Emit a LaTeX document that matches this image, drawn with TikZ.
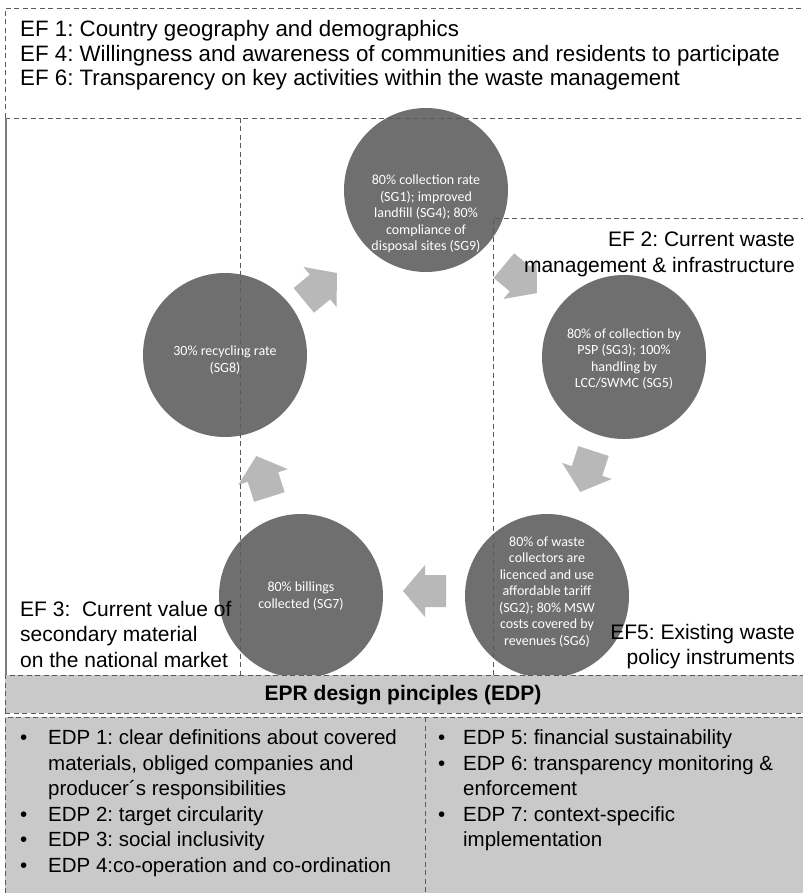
\documentclass[tikz,border=0pt]{standalone}
\usepackage{fontspec}
\setmainfont{Liberation Sans}
\newfontfamily\calfont{Carlito}
\usetikzlibrary{calc}
\definecolor{circgray}{RGB}{111,111,111}
\definecolor{arrgray}{RGB}{184,184,184}
\definecolor{bandgray}{RGB}{201,201,201}
\definecolor{linegray}{RGB}{90,90,90}
\tikzset{
  dl/.style={draw=linegray, line width=0.9pt, dash pattern=on 5pt off 3.5pt},
  goal/.style={circle, fill=circgray, minimum size=164pt, inner sep=0pt},
  gtext/.style={align=center, inner sep=0pt, text=white, font=\calfont\fontsize{14}{16.5}\selectfont},
  eftext/.style={inner sep=0pt, font=\fontsize{21}{25.5}\selectfont},
  toptext/.style={inner sep=0pt, anchor=west, font=\fontsize{22.3}{26}\selectfont},
  cycarrow/.pic={\fill[arrgray] (-21,-16) -- (0,-16) -- (0,-26) -- (22,0) -- (0,26) -- (0,16) -- (-21,16) -- cycle;}
}
\begin{document}
\frenchspacing
\begin{tikzpicture}[x=1pt,y=-1pt]
\useasboundingbox (0,0) rectangle (803,893);
\fill[white] (0,0) rectangle (803,893);
% circles
\node[goal] (top) at (426,190) {};
\node[goal] (right) at (624,357) {};
\node[goal] (bright) at (547,596) {};
\node[goal] (bleft) at (301,596) {};
\node[goal] (left) at (225,355) {};
\node[gtext] (ttop) at ($(top)+(0,24)$) {80\% collection rate\\(SG1); improved\\landfill (SG4); 80\%\\compliance of\\disposal sites (SG9)};
\node[gtext] (tright) at ($(right)+(0,2)$) {80\% of collection by\\PSP (SG3); 100\%\\handling by\\LCC/SWMC (SG5)};
\node[gtext] (tbright) at ($(bright)+(0,-4)$) {80\% of waste\\collectors are\\licenced and use\\affordable tariff\\(SG2); 80\% MSW\\costs covered by\\revenues (SG6)};
\node[gtext] (tbleft) at ($(bleft)+(0,0)$) {80\% billings\\collected (SG7)};
\node[gtext] (tleft) at ($(left)+(0,5)$) {30\% recycling rate\\(SG8)};
% cycle arrows
\pic[rotate=39.5] at (320,287) {cycarrow};
\pic[rotate=-39.8] at (520,279) {cycarrow};
\pic[rotate=-107.9] at (587,471) {cycarrow};
\pic[rotate=180] at (425,591) {cycarrow};
\pic[rotate=107.6] at (263,477) {cycarrow};
% frame lines
\coordinate (tl) at (5,8);
\coordinate (tr) at (803,8);
\coordinate (ml) at (5,118);
\coordinate (mr) at (803,118);
\draw[dl] (ml) -- (tl) -- (tr);
\draw[dl] (ml) -- (mr);
\draw[draw=linegray!80, line width=1.3pt] (6,118) -- (6,675);
\draw[dl] (240,118) -- (240,675);
\draw[dl] (493,675) -- (493,218) -- (803,218);
% EF texts
\node[toptext] (ef1) at (20,30.5) {EF 1: Country geography and demographics};
\node[toptext] (ef4) at (20,56) {EF 4: Willingness and awareness of communities and residents to participate};
\node[toptext] (ef6) at (20,80) {EF 6: Transparency on key activities within the waste management};
\node[eftext, anchor=east, align=right] (ef2) at (795,254.5) {EF 2: Current waste\\management \& infrastructure};
\node[eftext, anchor=west, align=left] (ef3) at (20,634) {EF 3:\ \ Current value of\\secondary material\\on the national market};
\node[eftext, anchor=east, align=right] (ef5) at (795,646.5) {EF5: Existing waste\\policy instruments};
% band
\fill[bandgray] (5,675) rectangle (803,713);
\fill[bandgray] (5,717) rectangle (803,893);
\draw[dl] (5,713) -- (5,675) -- (803,675);
\draw[dl] (5,893) -- (5,717) -- (803,717);
\draw[dl] (5,713) -- (803,713);
\draw[dl] (425,717) -- (425,893);
\node[font=\bfseries\fontsize{21}{25}\selectfont, inner sep=0pt] (epr) at (403,695) {EPR design pinciples (EDP)};
\node[anchor=north west, inner sep=0pt, font=\fontsize{20.5}{25.5}\selectfont] (colA) at (20,726.5) {%
\begin{tabular}{@{}l@{\hspace{20.8pt}}l@{}}
\textbullet & EDP 1: clear definitions about covered\\
 & materials, obliged companies and\\
 & producer´s responsibilities\\
\textbullet & EDP 2: target circularity\\
\textbullet & EDP 3: social inclusivity\\
\textbullet & EDP 4:co-operation and co-ordination
\end{tabular}};
\node[anchor=north west, inner sep=0pt, font=\fontsize{20.5}{25.5}\selectfont] (colB) at (438,726.5) {%
\begin{tabular}{@{}l@{\hspace{17.8pt}}l@{}}
\textbullet & EDP 5: financial sustainability\\
\textbullet & EDP 6: transparency monitoring \&\\
 & enforcement\\
\textbullet & EDP 7: context-specific\\
 & implementation
\end{tabular}};
\end{tikzpicture}
\end{document}
